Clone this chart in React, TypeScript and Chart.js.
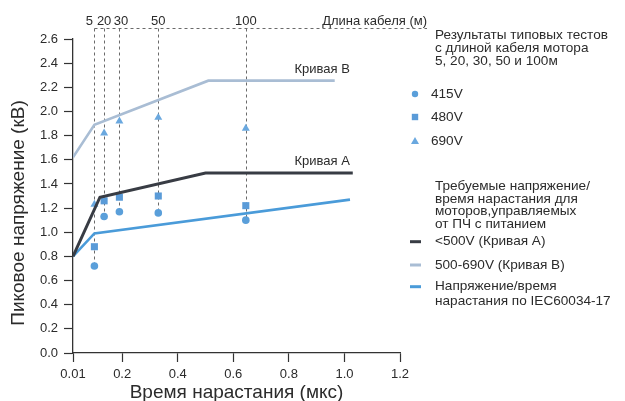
import React, { useEffect, useRef } from 'react';
import { Chart, registerables } from 'chart.js';

Chart.register(...registerables);

const FONT = '"Liberation Sans", Arial, sans-serif';
const TEXT_COLOR = '#2b2b2b';

// Axes
const X_MIN = 0.023;
const X_MAX = 1.2;
const X_TICK_VALUES = [X_MIN, 0.2, 0.4, 0.6, 0.8, 1.0, 1.2];
const X_TICK_LABELS = ['0.01', '0.2', '0.4', '0.6', '0.8', '1.0', '1.2'];
const Y_MIN = 0;
const Y_MAX = 2.6;
const Y_STEP = 0.2;
const X_TITLE = 'Время нарастания (мкс)';
const Y_TITLE = 'Пиковое напряжение (кВ)';

// Test results per cable length
const CABLE_LENGTHS = ['5', '20', '30', '50', '100'];
const CABLE_TITLE = 'Длина кабеля (м)';
const RISE_TIME = [0.1, 0.135, 0.19, 0.33, 0.645];
const PEAK_415V = [0.72, 1.13, 1.17, 1.16, 1.1];
const PEAK_480V = [0.88, 1.26, 1.29, 1.3, 1.22];
const PEAK_690V = [1.23, 1.82, 1.92, 1.95, 1.86];

// Limit curves
const CURVE_A_X = [X_MIN, 0.12, 0.5, 1.03];
const CURVE_A_Y = [0.8, 1.29, 1.49, 1.49];
const CURVE_B_X = [X_MIN, 0.1, 0.51, 0.965];
const CURVE_B_Y = [1.62, 1.89, 2.255, 2.255];
const IEC_X = [X_MIN, 0.1, 1.02];
const IEC_Y = [0.8, 0.99, 1.27];

const CURVE_LABELS = ['Кривая В', 'Кривая А'];
const CURVE_LABEL_X = [0.82, 0.82];
const CURVE_LABEL_Y = [2.35, 1.585];

// Legend texts
const LEGEND_HEADER_1 = ['Результаты типовых тестов', 'с длиной кабеля мотора', '5, 20, 30, 50 и 100м'];
const LEGEND_POINTS = ['415V', '480V', '690V'];
const LEGEND_HEADER_2 = ['Требуемые напряжение/', 'время нарастания для', 'моторов,управляемых', 'от ПЧ с питанием'];
const LEGEND_LINES = [['<500V (Кривая А)'], ['500-690V (Кривая В)'], ['Напряжение/время', 'нарастания по IEC60034-17']];

const COLOR_A = '#383c44';
const COLOR_B = '#a9bdd4';
const COLOR_IEC = '#4a9bd9';
const COLOR_415 = '#5a9fda';
const COLOR_480 = '#5a9bd8';
const COLOR_690 = '#6aa8df';

const zip = (xs: number[], ys: number[]) => xs.map((x, i) => ({ x, y: ys[i] }));

function drawMarker(ctx: CanvasRenderingContext2D, style: string, r: number, x: number, y: number) {
  ctx.beginPath();
  if (style === 'circle') {
    ctx.arc(x, y, r, 0, Math.PI * 2);
  } else if (style === 'rect') {
    ctx.rect(x - r, y - r, 2 * r, 2 * r);
  } else {
    ctx.moveTo(x, y - r * 1.1);
    ctx.lineTo(x + r, y + r * 0.65);
    ctx.lineTo(x - r, y + r * 0.65);
    ctx.closePath();
  }
  ctx.fill();
}

const overlay = {
  id: 'overlay',
  beforeDatasetsDraw(chart: any) {
    const { ctx, chartArea, scales } = chart;
    const xs = scales.x;
    const ys = scales.y;
    const topY = Math.round(chartArea.top - 11) + 0.5;
    ctx.save();
    ctx.strokeStyle = '#6a6a6a';
    ctx.lineWidth = 1;
    ctx.setLineDash([3, 3]);
    RISE_TIME.forEach((t, i) => {
      const px = Math.round(xs.getPixelForValue(t)) + 0.5;
      const low = Math.min(PEAK_415V[i], PEAK_480V[i], PEAK_690V[i]);
      ctx.beginPath();
      ctx.moveTo(px, topY);
      ctx.lineTo(px, ys.getPixelForValue(low));
      ctx.stroke();
    });
    const x0 = Math.round(xs.getPixelForValue(RISE_TIME[0])) + 0.5;
    ctx.beginPath();
    ctx.moveTo(x0, topY);
    ctx.lineTo(chartArea.right + 27, topY);
    ctx.stroke();
    ctx.restore();
  },
  afterDraw(chart: any) {
    const { ctx, chartArea, scales } = chart;
    const xs = scales.x;
    const ys = scales.y;
    ctx.save();
    ctx.fillStyle = TEXT_COLOR;
    ctx.textBaseline = 'middle';

    // cable length labels
    ctx.font = `13px ${FONT}`;
    const labY = chartArea.top - 18;
    CABLE_LENGTHS.forEach((l, i) => {
      const px = xs.getPixelForValue(RISE_TIME[i]);
      if (i === 0) {
        ctx.textAlign = 'right';
        ctx.fillText(l, px - 1.5, labY);
      } else {
        ctx.textAlign = 'center';
        ctx.fillText(l, px + (i === 2 ? 1.5 : 0), labY);
      }
    });
    ctx.textAlign = 'right';
    ctx.fillText(CABLE_TITLE, chartArea.right + 27, labY);

    // curve labels
    ctx.textAlign = 'left';
    CURVE_LABELS.forEach((l, i) => {
      ctx.fillText(l, xs.getPixelForValue(CURVE_LABEL_X[i]), ys.getPixelForValue(CURVE_LABEL_Y[i]));
    });

    // axis titles
    ctx.font = `19px ${FONT}`;
    ctx.textAlign = 'center';
    ctx.fillText(X_TITLE, (chartArea.left + chartArea.right) / 2, chartArea.bottom + 39.5);
    ctx.save();
    ctx.translate(19, chartArea.bottom - 140);
    ctx.rotate(-Math.PI / 2);
    ctx.fillText(Y_TITLE, 0, 0);
    ctx.restore();

    // legend
    const lx = chartArea.right + 35;
    const mx = chartArea.right + 15;
    ctx.font = `13.6px ${FONT}`;
    ctx.textAlign = 'left';
    LEGEND_HEADER_1.forEach((t, i) => ctx.fillText(t, lx, 35 + i * 13.3));

    const ptY = [94, 117, 141.5];
    const ptColors = [COLOR_415, COLOR_480, COLOR_690];
    const ptStyles = ['circle', 'rect', 'triangle'];
    const ptRad = [3.2, 3.2, 4];
    LEGEND_POINTS.forEach((t, i) => {
      ctx.fillStyle = ptColors[i];
      drawMarker(ctx, ptStyles[i], ptRad[i], mx, ptY[i]);
      ctx.fillStyle = TEXT_COLOR;
      ctx.fillText(t, chartArea.right + 31, ptY[i]);
    });

    LEGEND_HEADER_2.forEach((t, i) => ctx.fillText(t, lx, 186 + i * 12.8));

    const lnY = [241.7, 265, 286.7];
    const lnColors = [COLOR_A, COLOR_B, COLOR_IEC];
    LEGEND_LINES.forEach((lines, i) => {
      ctx.strokeStyle = lnColors[i];
      ctx.lineWidth = 3;
      ctx.beginPath();
      ctx.moveTo(chartArea.right + 10, lnY[i]);
      ctx.lineTo(chartArea.right + 21, lnY[i]);
      ctx.stroke();
      ctx.fillStyle = TEXT_COLOR;
      lines.forEach((t, j) => ctx.fillText(t, lx, lnY[i] + j * 14.3));
    });
    ctx.restore();
  },
};

export default function App() {
  const ref = useRef<HTMLCanvasElement | null>(null);
  useEffect(() => {
    if (!ref.current) return;
    const tickFont = { family: FONT, size: 13 };
    const chart = new Chart(ref.current, {
      type: 'scatter',
      data: {
        datasets: [
          { label: 'Кривая А', data: zip(CURVE_A_X, CURVE_A_Y), showLine: true, borderColor: COLOR_A, borderWidth: 3, pointRadius: 0, fill: false },
          { label: 'Кривая В', data: zip(CURVE_B_X, CURVE_B_Y), showLine: true, borderColor: COLOR_B, borderWidth: 2.6, pointRadius: 0, fill: false },
          { label: 'IEC60034-17', data: zip(IEC_X, IEC_Y), showLine: true, borderColor: COLOR_IEC, borderWidth: 2.6, pointRadius: 0, fill: false },
          { label: '415V', data: zip(RISE_TIME, PEAK_415V), pointStyle: 'circle', pointRadius: 3.8, backgroundColor: COLOR_415, borderColor: COLOR_415, borderWidth: 0 },
          { label: '480V', data: zip(RISE_TIME, PEAK_480V), pointStyle: 'rect', pointRadius: 5, backgroundColor: COLOR_480, borderColor: COLOR_480, borderWidth: 0 },
          { label: '690V', data: zip(RISE_TIME, PEAK_690V), pointStyle: 'triangle', pointRadius: 4.6, backgroundColor: COLOR_690, borderColor: COLOR_690, borderWidth: 0 },
        ],
      },
      options: {
        responsive: false,
        animation: false,
        events: [],
        layout: { padding: { top: 39, right: 225, bottom: 0, left: 0 } },
        plugins: { legend: { display: false }, tooltip: { enabled: false } },
        scales: {
          x: {
            type: 'linear',
            min: X_MIN,
            max: X_MAX,
            afterBuildTicks: (s: any) => { s.ticks = X_TICK_VALUES.map((v) => ({ value: v })); },
            afterFit: (s: any) => { s.height = 48; },
            ticks: {
              callback: (_v: any, i: number) => X_TICK_LABELS[i],
              font: tickFont,
              color: TEXT_COLOR,
              padding: 5,
              maxRotation: 0,
              autoSkip: false,
            },
            grid: { display: true, drawOnChartArea: false, drawTicks: true, tickLength: 9, tickColor: '#333', tickWidth: 1.2 },
            border: { display: true, color: '#333', width: 1.3 },
          },
          y: {
            type: 'linear',
            min: Y_MIN,
            max: Y_MAX,
            afterFit: (s: any) => { s.width = 73; },
            ticks: {
              stepSize: Y_STEP,
              callback: (v: any) => Number(v).toFixed(1),
              font: tickFont,
              color: TEXT_COLOR,
              padding: 6,
            },
            grid: { display: true, drawOnChartArea: false, drawTicks: true, tickLength: 9, tickColor: '#333', tickWidth: 1.2 },
            border: { display: true, color: '#333', width: 1.3 },
          },
        },
      },
      plugins: [overlay],
    } as any);
    return () => chart.destroy();
  }, []);
  return (
    <div style={{ position: 'absolute', left: 0, top: 0, width: 625, height: 401, background: '#fff' }}>
      <canvas ref={ref} width={625} height={401} style={{ display: 'block' }} />
    </div>
  );
}
